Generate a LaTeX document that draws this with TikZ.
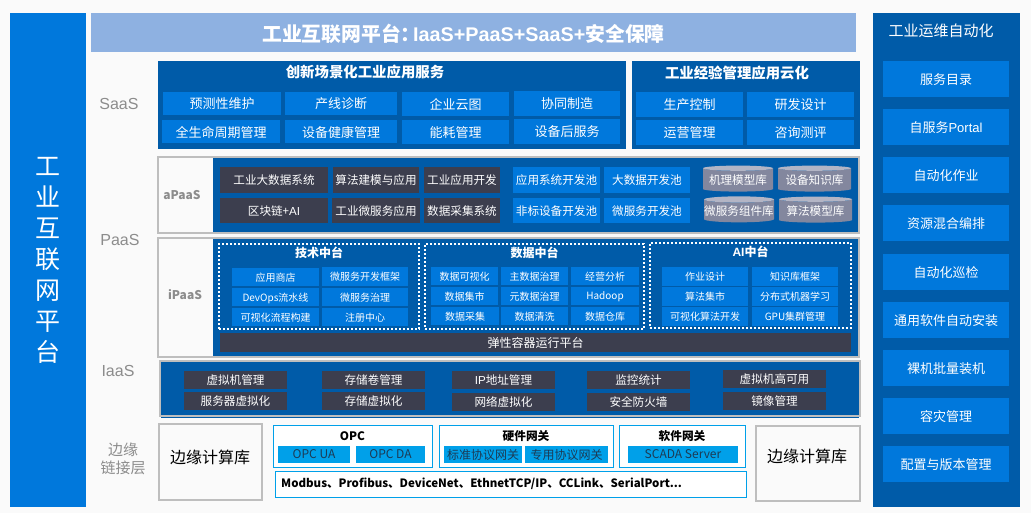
\documentclass[tikz,border=0pt]{standalone}
\usepackage{fontspec}
\setmainfont{Noto Sans CJK SC}
\newfontfamily\latfont{Liberation Sans}
\usetikzlibrary{shapes.geometric}
\definecolor{pageBack}{HTML}{FAFAFA}
\definecolor{barBlue}{HTML}{0078DC}
\definecolor{panelBlue}{HTML}{005BA8}
\definecolor{titleBlue}{HTML}{8EB1E1}
\definecolor{slateBox}{HTML}{3C3E4E}
\definecolor{frameGray}{HTML}{BEBEBE}
\definecolor{labelGray}{HTML}{8C8C8C}
\definecolor{edgeLine}{HTML}{00A0E9}
\definecolor{edgeText}{HTML}{1C3B55}
\definecolor{cylBody}{HTML}{83879E}
\definecolor{cylTop}{HTML}{B3B5C5}
\newcommand{\fs}[1]{\fontsize{#1}{#1}\selectfont}
\newcommand{\lat}[1]{{\latfont #1}}
\begin{document}
\begin{tikzpicture}
[x=1pt,y=-1pt,
  baseDecorate/.style={anchor=north west,inner sep=0pt,outer sep=0pt,align=center,text depth=0pt},%
  panelDecorate/.style={baseDecorate,fill=panelBlue,text=white},%
  blueDecorate/.style={baseDecorate,fill=barBlue,text=white},%
  slateDecorate/.style={baseDecorate,fill=slateBox,text=white},%
  frameDecorate/.style={baseDecorate,draw=frameGray,line width=2pt},%
  lightDecorate/.style={baseDecorate,fill=edgeLine,text=edgeText,font=\fs{12}},%
  edgeDecorate/.style={baseDecorate,fill=white,draw=edgeLine,line width=1pt},%
  cylDecorate/.style={cylinder,shape border rotate=90,aspect=0.09,inner sep=0pt,outer sep=0pt,
    text depth=0pt,cylinder uses custom fill,cylinder body fill=cylBody,cylinder end fill=cylTop,
    text=white,font=\fs{11.6}},%
  titleDecorate/.style={inner sep=0pt,font=\bfseries\fs{14.4},text=white},%
  groupDecorate/.style={inner sep=0pt,font=\bfseries\fs{11.7},text=white},%
  layerDecorate/.style={inner sep=0pt,align=center,text=labelGray,font=\fontsize{15}{18}\selectfont}]
\fill[pageBack] (0,0) rectangle (1031,513);
\useasboundingbox (0,0) rectangle (1031,513);
%% outer columns and title
\node (leftbar) at (10,13) [blueDecorate,minimum width=76pt,minimum height=494pt] {};
\node (leftname) at (48,260) [inner sep=0pt,align=center,text=white,font=\fontsize{25}{31}\selectfont]
  {工\\业\\互\\联\\网\\平\\台};
\node (topbar) at (91,13) [baseDecorate,fill=titleBlue,minimum width=765pt,minimum height=39pt] {};
\node (toptitle) at (463.5,33) [inner sep=0pt,text depth=0pt,text=white,font=\bfseries\fs{19.8}]
  {工业互联网平台：\hspace{-7.5pt}\lat{IaaS+PaaS+SaaS+}安全保障};
\node (rightbar) at (873,13) [panelDecorate,minimum width=147pt,minimum height=494pt] {};
\node (righttitle) at (941,31) [inner sep=0pt,text=white,font=\fs{15}] {工业运维自动化};
\foreach \nodename/\y/\txt in {
  ops1/61/服务目录, ops2/109/自服务\lat{Portal}, ops3/157/自动化作业, ops4/205/资源混合编排,
  ops5/254/自动化巡检, ops6/302/通用软件自动安装, ops7/350/裸机批量装机,
  ops8/398/容灾管理, ops9/446/配置与版本管理}
{
  \node (\nodename) at (883,\y) [blueDecorate,font=\fs{13},minimum width=126pt,minimum height=36pt] {\txt};
}
%% layer labels
\foreach \nodename/\x/\y/\txt in {
  saas/119/103.5/\fs{16}\lat{SaaS}, paas/120/239.5/\fs{16}\lat{PaaS}, iaas/118/370.5/\fs{16}\lat{IaaS}, edge/123/459/边缘\\链接层}
{
  \node (\nodename) at (\x,\y) [layerDecorate] {\txt};
}
%% saas
\node (saasleft) at (158,61) [panelDecorate,minimum width=468pt,minimum height=88pt] {};
\node (saasright) at (632,61) [panelDecorate,minimum width=228pt,minimum height=88pt] {};
\node (saaslefttitle) at (365,72) [titleDecorate] {创新场景化工业应用服务};
\node (saasrighttitle) at (737,73) [titleDecorate] {工业经验管理应用云化};
\foreach \nodename/\x/\y/\w/\h/\txt in {
  sa1/163/92/118/23/预测性维护, sa2/285/92/112/23/产线诊断, sa3/402/92/107/24/企业云图,
  sa4/514/91/106/25/协同制造, sa5/162/120/118/23/全生命周期管理, sa6/285/120/112/23/设备健康管理,
  sa7/402/120/107/24/能耗管理, sa8/514/119/106/25/设备后服务, sb1/636/92/107/25/生产控制,
  sb2/747/92/107/25/研发设计, sb3/636/120/107/25/运营管理, sb4/747/120/107/25/咨询测评}
{
  \node (\nodename) at (\x,\y) [blueDecorate,font=\fs{13},minimum width=\w pt,minimum height=\h pt] {\txt};
}
%% apaas
\node (apaasframe) at (158,157) [frameDecorate,minimum width=701pt,minimum height=76pt] {};
\node (apaaspanel) at (213,158) [panelDecorate,minimum width=645pt,minimum height=74pt] {};
\node (apaaslabel) at (182,195) [inner sep=0pt,text=labelGray,font=\bfseries\fs{12}] {aPaaS};
\foreach \nodename/\x/\y/\w/\h/\txt in {
  ap1/220/167/108/26/工业大数据系统, ap2/333/167/86/26/算法建模与应用, ap3/424/167/76/26/工业应用开发,
  ap4/220/198/108/25/区块链+\lat{AI}, ap5/332/198/88/25/工业微服务应用, ap6/424/198/76/25/数据采集系统}
{
  \node (\nodename) at (\x,\y) [slateDecorate,font=\fs{11.6},minimum width=\w pt,minimum height=\h pt] {\txt};
}
\foreach \nodename/\x/\y/\w/\h/\txt in {
  ap7/513/167/87/26/应用系统开发池, ap8/604/167/86/26/大数据开发池,
  ap9/513/198/87/25/非标设备开发池, ap10/604/198/86/25/微服务开发池}
{
  \node (\nodename) at (\x,\y) [blueDecorate,font=\fs{11.6},minimum width=\w pt,minimum height=\h pt] {\txt};
}
\foreach \nodename/\x/\y/\w/\txt in {
  cyl1/738/180/70/机理模型库, cyl2/814.5/180/73/设备知识库,
  cyl3/739/211/70/微服务组件库, cyl4/815.5/211/73/算法模型库}
{
  \node (\nodename) at (\x,\y) [cylDecorate,minimum width=\w pt,minimum height=26pt] {\txt};
}
%% ipaas
\node (ipaasframe) at (158,238) [frameDecorate,minimum width=701pt,minimum height=119pt] {};
\node (ipaaspanel) at (213,239) [panelDecorate,minimum width=645pt,minimum height=117pt] {};
\node (ipaaslabel) at (185,295) [inner sep=0pt,text=labelGray,font=\bfseries\fs{12}] {iPaaS};
\foreach \nodename/\x/\y/\w/\h/\txt in {
  tech/219/244/200/85/技术中台, data/425/244/219/85/数据中台, aihub/650/243/201/85/\lat{AI}中台}
{
  \node (\nodename) at (\x,\y) [baseDecorate,draw=white,line width=2pt,dash pattern=on 2pt off 2pt,
    minimum width=\w pt,minimum height=\h pt] {};
  \node (\nodename title) [groupDecorate,font=\bfseries\fs{12}] at ([yshift=-8.5pt]\nodename.north) {\txt};
}
\foreach \nodename/\x/\y/\w/\h/\txt in {
  te1/232/268/87/18/应用商店, te2/322/267/86/19/微服务开发框架, te3/232/288/87/18/DevOps流水线,
  te4/322/288/86/18/微服务治理, te5/232/308/87/18/可视化流程构建, te6/322/308/86/18/注册中心,
  da1/431/267/67/18/数据可视化, da2/501/267/67/18/主数据治理, da3/571/267/68/18/经营分析,
  da4/431/287/67/18/数据集市, da5/501/287/67/18/元数据治理, da6/571/287/68/18/Hadoop,
  da7/431/307/68/18/数据采集, da8/501/307/67/18/数据清洗, da9/571/307/68/18/数据仓库,
  ai1/662/267/86/19/作业设计, ai2/752/267/86/19/知识库框架, ai3/662/287/86/19/算法集市,
  ai4/752/287/86/19/分布式机器学习, ai5/662/307/86/19/可视化算法开发, ai6/752/307/86/19/GPU集群管理}
{
  \node (\nodename) at (\x,\y) [blueDecorate,font=\fs{10},minimum width=\w pt,minimum height=\h pt] {\txt};
}
\node (elastic) at (220,333) [slateDecorate,font=\fs{12},minimum width=631pt,minimum height=19pt] {弹性容器运行平台};
%% iaas
\node (iaaspanel) at (161,362) [panelDecorate,minimum width=698pt,minimum height=56pt] {};
\node (iaasframe) at (160,361) [frameDecorate,minimum width=700pt,minimum height=55pt] {};
\foreach \nodename/\x/\y/\txt in {
  ia1/184/371/虚拟机管理, ia2/184/392/服务器虚拟化, ia3/322/371/存储卷管理, ia4/322/392/存储虚拟化,
  ia5/452/371/\lat{IP}地址管理, ia6/452/393/网络虚拟化, ia7/587/371/监控统计, ia8/587/393/安全防火墙,
  ia9/723/370/虚拟机高可用, ia10/723/392/镜像管理}
{
  \node (\nodename) at (\x,\y) [slateDecorate,font=\fs{11.6},minimum width=103pt,minimum height=18pt] {\txt};
}
%% edge
\node (edgelib1) at (158.5,423.5) [frameDecorate,minimum width=103pt,minimum height=76pt] {};
\node (edgelib2) at (756,425.5) [frameDecorate,minimum width=104pt,minimum height=75pt] {};
\node (edgelibtext1) at (210,457.5) [inner sep=0pt,font=\fs{16},text=black] {边缘计算库};
\node (edgelibtext2) at (807,456) [inner sep=0pt,font=\fs{16},text=black] {边缘计算库};
\foreach \nodename/\x/\w/\txt in {
  opc/273/159/OPC, hwgate/439/174/硬件网关, swgate/619/126/软件网关}
{
  \node (\nodename) at (\x,425) [edgeDecorate,minimum width=\w pt,minimum height=42pt] {};
  \node (\nodename title) at ([yshift=-11pt]\nodename.north) [groupDecorate,text=black] {\txt};
}
\foreach \nodename/\x/\w/\txt in {
  opc1/278/72/OPC UA, opc2/356/69/OPC DA, hw1/444/78/标准协议网关, hw2/525/83/专用协议网关, sw1/628/110/SCADA Server}
{
  \node (\nodename) at (\x,446) [lightDecorate,minimum width=\w pt,minimum height=16.5pt] {\txt};
}
\node (protocols) at (275,471) [edgeDecorate,minimum width=471pt,minimum height=26pt] {};
\node (protocolstext) at ([xshift=6pt]protocols.west) [anchor=west,inner sep=0pt,text=black,font=\bfseries\fs{11.5}]
  {Modbus、Profibus、DeviceNet、EthnetTCP/IP、CCLink、SerialPort...};
\end{tikzpicture}
\end{document}
